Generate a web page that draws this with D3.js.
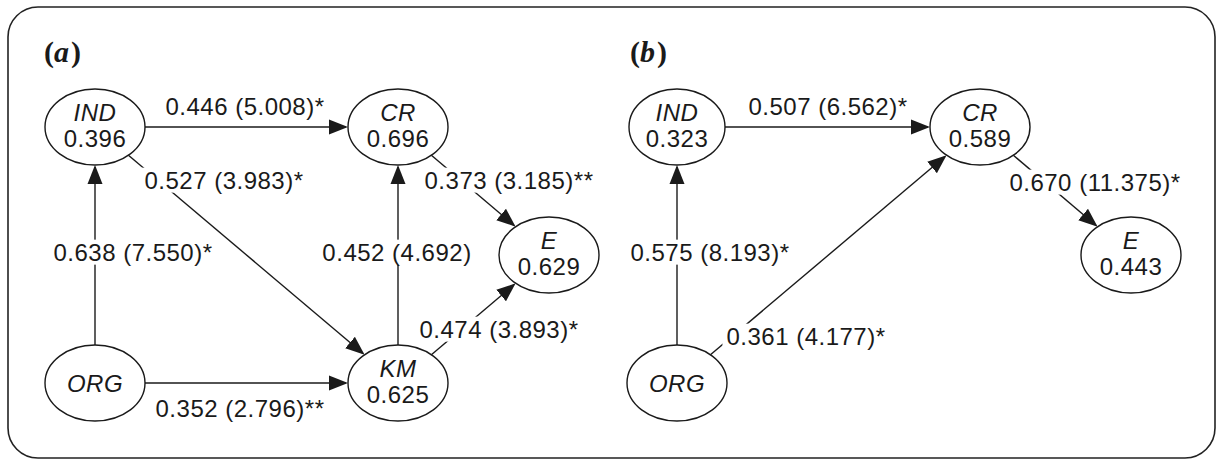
<!DOCTYPE html>
<html>
<head>
<meta charset="utf-8">
<script src="https://cdn.jsdelivr.net/npm/d3@7"></script>
<style>
  body { margin: 0; background: #fff; }
  svg text { font-family: "Liberation Sans", Arial, sans-serif; fill: #1a1a1a; }
</style>
</head>
<body>
<svg id="chart" width="1217" height="460"></svg>
<script>
"use strict";

// panel (a) : constructs and R2
var nodesA = ["IND", "CR", "E", "ORG", "KM"];
var r2A = [0.396, 0.696, 0.629, null, 0.625];
// panel (a) : paths, coefficient (t value) and significance
var fromA = ["IND", "IND", "ORG", "KM", "ORG", "CR", "KM"];
var toA = ["CR", "KM", "IND", "CR", "KM", "E", "E"];
var coefA = [0.446, 0.527, 0.638, 0.452, 0.352, 0.373, 0.474];
var tA = [5.008, 3.983, 7.550, 4.692, 2.796, 3.185, 3.893];
var sigA = ["*", "*", "*", "", "**", "**", "*"];

// panel (b)
var nodesB = ["IND", "CR", "E", "ORG"];
var r2B = [0.323, 0.589, 0.443, null];
var fromB = ["IND", "ORG", "ORG", "CR"];
var toB = ["CR", "IND", "CR", "E"];
var coefB = [0.507, 0.575, 0.361, 0.670];
var tB = [6.562, 8.193, 4.177, 11.375];
var sigB = ["*", "*", "*", "*"];

var panelTitles = ["a", "b"];

// layout only (pixel places of nodes and labels)
var layout = {
  a: {
    title: [44, 52],
    nodes: { IND: [95, 127], CR: [398, 127], E: [549, 255], ORG: [95, 383], KM: [398, 383] },
    labels: [[245, 106], [224, 180], [133, 252], [397, 252], [240, 408], [509, 180], [499, 329]]
  },
  b: {
    title: [630, 52],
    nodes: { IND: [677, 127], CR: [980, 127], E: [1131, 255], ORG: [677, 383] },
    labels: [[828, 106], [710, 252], [806, 336], [1095, 182]]
  }
};
var rx = 50, ry = 38;
var rxOf = { b_IND: 48 };

var fmt = d3.format(".3f");
var svg = d3.select("#chart");

// outer frame
svg.append("rect")
  .attr("x", 8).attr("y", 7)
  .attr("width", 1207).attr("height", 451)
  .attr("rx", 30).attr("ry", 30)
  .attr("fill", "none")
  .attr("stroke", "#222")
  .attr("stroke-width", 1.6);

// arrow head
svg.append("defs").append("marker")
  .attr("id", "arrow")
  .attr("markerUnits", "userSpaceOnUse")
  .attr("viewBox", "-19 -8 21 16")
  .attr("refX", -2).attr("refY", 0)
  .attr("markerWidth", 21).attr("markerHeight", 16)
  .attr("orient", "auto")
  .append("path")
  .attr("d", "M-19,-7.5L0,0L-19,7.5Z")
  .attr("fill", "#1a1a1a");

// point on ellipse border in direction (ux,uy)
function border(c, ux, uy, a, b) {
  var t = 1 / Math.sqrt((ux / a) * (ux / a) + (uy / b) * (uy / b));
  return [c[0] + ux * t, c[1] + uy * t];
}

function drawPanel(key, nodes, r2, from, to, coef, tv, sig, title) {
  var L = layout[key];
  var g = svg.append("g").attr("class", "panel-" + key);

  var edges = from.map(function(f, i) {
    return { from: f, to: to[i], label: fmt(coef[i]) + " (" + fmt(tv[i]) + ")" + sig[i], pos: L.labels[i] };
  });

  var nodeData = nodes.map(function(n, i) {
    return { name: n, r2: r2[i], x: L.nodes[n][0], y: L.nodes[n][1], rx: rxOf[key + "_" + n] || rx };
  });
  var byName = {};
  nodeData.forEach(function(d) { byName[d.name] = d; });

  // paths
  g.selectAll(".path")
    .data(edges)
    .enter().append("line")
    .attr("class", "path")
    .each(function(e) {
      var s = byName[e.from], t = byName[e.to];
      var dx = t.x - s.x, dy = t.y - s.y, len = Math.sqrt(dx * dx + dy * dy);
      var ux = dx / len, uy = dy / len;
      var p1 = border([s.x, s.y], ux, uy, s.rx, ry);
      var p2 = border([t.x, t.y], -ux, -uy, t.rx, ry);
      // stop a little short so the head tip meets the border
      d3.select(this)
        .attr("x1", p1[0]).attr("y1", p1[1])
        .attr("x2", p2[0] - ux * 2).attr("y2", p2[1] - uy * 2);
    })
    .attr("stroke", "#1a1a1a")
    .attr("stroke-width", 1.4)
    .attr("marker-end", "url(#arrow)");

  // path labels, white box cuts the line
  var lab = g.selectAll(".plabel")
    .data(edges)
    .enter().append("g")
    .attr("class", "plabel");
  var txt = lab.append("text")
    .attr("x", function(e) { return e.pos[0]; })
    .attr("y", function(e) { return e.pos[1]; })
    .attr("dy", "0.36em")
    .attr("text-anchor", "middle")
    .style("font-size", "24px")
    .style("letter-spacing", "0.5px")
    .text(function(e) { return e.label; });
  txt.each(function() {
    var bb = this.getBBox();
    d3.select(this.parentNode).insert("rect", "text")
      .attr("x", bb.x - 4).attr("y", bb.y + 1)
      .attr("width", bb.width + 8).attr("height", bb.height - 2)
      .attr("fill", "#fff");
  });

  // constructs
  var node = g.selectAll(".node")
    .data(nodeData)
    .enter().append("g")
    .attr("class", "node")
    .attr("transform", function(d) { return "translate(" + d.x + "," + d.y + ")"; });
  node.append("ellipse")
    .attr("rx", function(d) { return d.rx; })
    .attr("ry", ry)
    .attr("fill", "#fff")
    .attr("stroke", "#1a1a1a")
    .attr("stroke-width", 1.4);
  node.append("text")
    .attr("text-anchor", "middle")
    .attr("y", function(d) { return d.r2 === null ? 9 : -6; })
    .style("font-size", "24px")
    .style("font-style", "italic")
    .style("letter-spacing", "0.5px")
    .text(function(d) { return d.name; });
  node.filter(function(d) { return d.r2 !== null; })
    .append("text")
    .attr("text-anchor", "middle")
    .attr("y", 20)
    .style("font-size", "24px")
    .style("letter-spacing", "0.5px")
    .text(function(d) { return fmt(d.r2); });

  // panel title (a) / (b)
  var tt = g.append("text")
    .attr("x", L.title[0]).attr("y", L.title[1] + 10)
    .style("font-family", "'Liberation Serif', 'DejaVu Serif', serif")
    .style("font-size", "30px")
    .style("font-weight", "bold");
  tt.append("tspan").text("(");
  tt.append("tspan").style("font-style", "italic").text(title);
  tt.append("tspan").attr("dx", 2).text(")");
}

drawPanel("a", nodesA, r2A, fromA, toA, coefA, tA, sigA, panelTitles[0]);
drawPanel("b", nodesB, r2B, fromB, toB, coefB, tB, sigB, panelTitles[1]);
</script>
</body>
</html>
